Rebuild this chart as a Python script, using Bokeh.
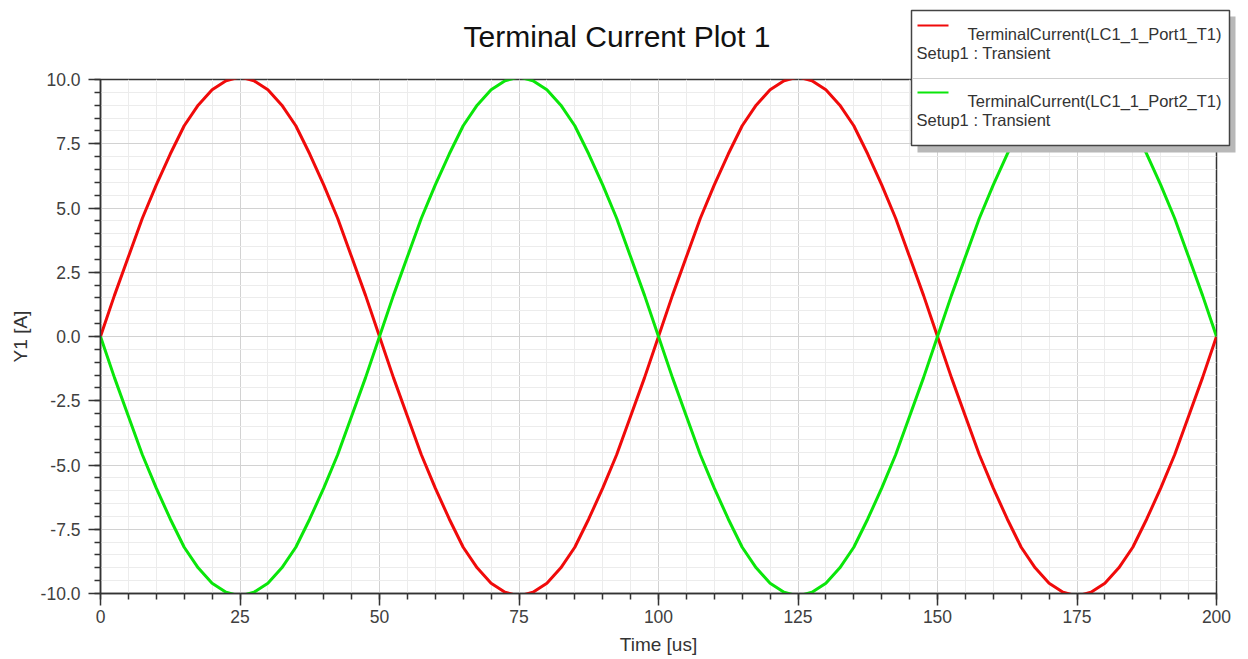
from bokeh.plotting import figure
from bokeh.models import Range1d, FixedTicker, PrintfTickFormatter, Label, BoxAnnotation, GridBox
from bokeh.embed import file_html
from bokeh.resources import INLINE

# ---------------- data ----------------
time_us = [0, 2.5, 5, 7.5, 10, 12.5, 15, 17.5, 20, 22.5, 25, 27.5, 30, 32.5, 35, 37.5, 40, 42.5, 45, 47.5,
           50, 52.5, 55, 57.5, 60, 62.5, 65, 67.5, 70, 72.5, 75, 77.5, 80, 82.5, 85, 87.5, 90, 92.5, 95, 97.5,
           100, 102.5, 105, 107.5, 110, 112.5, 115, 117.5, 120, 122.5, 125, 127.5, 130, 132.5, 135, 137.5, 140, 142.5, 145, 147.5,
           150, 152.5, 155, 157.5, 160, 162.5, 165, 167.5, 170, 172.5, 175, 177.5, 180, 182.5, 185, 187.5, 190, 192.5, 195, 197.5,
           200]

port1_current = [0.0, 1.6, 3.1, 4.6, 5.9, 7.1, 8.2, 9.0, 9.6, 9.95, 10.1, 9.95, 9.6, 9.0, 8.2, 7.1, 5.9, 4.6, 3.1, 1.6,
                 0.0, -1.6, -3.1, -4.6, -5.9, -7.1, -8.2, -9.0, -9.6, -9.95, -10.1, -9.95, -9.6, -9.0, -8.2, -7.1, -5.9, -4.6, -3.1, -1.6,
                 0.0, 1.6, 3.1, 4.6, 5.9, 7.1, 8.2, 9.0, 9.6, 9.95, 10.1, 9.95, 9.6, 9.0, 8.2, 7.1, 5.9, 4.6, 3.1, 1.6,
                 0.0, -1.6, -3.1, -4.6, -5.9, -7.1, -8.2, -9.0, -9.6, -9.95, -10.1, -9.95, -9.6, -9.0, -8.2, -7.1, -5.9, -4.6, -3.1, -1.6,
                 0.0]

port2_current = [0.0, -1.6, -3.1, -4.6, -5.9, -7.1, -8.2, -9.0, -9.6, -9.95, -10.1, -9.95, -9.6, -9.0, -8.2, -7.1, -5.9, -4.6, -3.1, -1.6,
                 0.0, 1.6, 3.1, 4.6, 5.9, 7.1, 8.2, 9.0, 9.6, 9.95, 10.1, 9.95, 9.6, 9.0, 8.2, 7.1, 5.9, 4.6, 3.1, 1.6,
                 0.0, -1.6, -3.1, -4.6, -5.9, -7.1, -8.2, -9.0, -9.6, -9.95, -10.1, -9.95, -9.6, -9.0, -8.2, -7.1, -5.9, -4.6, -3.1, -1.6,
                 0.0, 1.6, 3.1, 4.6, 5.9, 7.1, 8.2, 9.0, 9.6, 9.95, 10.1, 9.95, 9.6, 9.0, 8.2, 7.1, 5.9, 4.6, 3.1, 1.6,
                 0.0]

x_ticks = [0, 25, 50, 75, 100, 125, 150, 175, 200]
x_minor = [0, 5, 10, 15, 20, 25, 30, 35, 40, 45, 50, 55, 60, 65, 70, 75, 80, 85, 90, 95, 100,
           105, 110, 115, 120, 125, 130, 135, 140, 145, 150, 155, 160, 165, 170, 175, 180, 185, 190, 195, 200]
y_ticks = [-10.0, -7.5, -5.0, -2.5, 0.0, 2.5, 5.0, 7.5, 10.0]
y_minor = [-10.0, -9.5, -9.0, -8.5, -8.0, -7.5, -7.0, -6.5, -6.0, -5.5, -5.0, -4.5, -4.0, -3.5, -3.0, -2.5,
           -2.0, -1.5, -1.0, -0.5, 0.0, 0.5, 1.0, 1.5, 2.0, 2.5, 3.0, 3.5, 4.0, 4.5, 5.0, 5.5, 6.0, 6.5,
           7.0, 7.5, 8.0, 8.5, 9.0, 9.5, 10.0]

title_text = "Terminal Current Plot 1"
x_label = "Time [us]"
y_label = "Y1 [A]"
series_names = ["TerminalCurrent(LC1_1_Port1_T1)", "TerminalCurrent(LC1_1_Port2_T1)"]
setup_name = "Setup1 : Transient"

RED = "#f00a0a"
GREEN = "#0ae60a"
FONT = "Liberation Sans"

W, H = 1248, 659

# ---------------- main plot ----------------
p = figure(width=W, height=H, output_backend="svg", toolbar_location=None,
           x_range=Range1d(0, 200), y_range=Range1d(-10, 10),
           min_border_left=100, min_border_right=32, min_border_top=79, min_border_bottom=66)
p.background_fill_color = "white"
p.border_fill_color = "white"
p.outline_line_color = "#333333"
p.outline_line_width = 1.5

p.xaxis.ticker = FixedTicker(ticks=x_ticks, minor_ticks=x_minor)
p.yaxis.ticker = FixedTicker(ticks=y_ticks, minor_ticks=y_minor)
p.xaxis.formatter = PrintfTickFormatter(format="%d")
p.yaxis.formatter = PrintfTickFormatter(format="%.1f")
p.xaxis.axis_label = x_label
p.yaxis.axis_label = y_label

for ax in (p.xaxis, p.yaxis):
    ax.axis_line_color = "#333333"
    ax.axis_line_width = 1.5
    ax.major_tick_line_color = "#333333"
    ax.major_tick_line_width = 1.5
    ax.minor_tick_line_color = "#333333"
    ax.minor_tick_line_width = 1.5
    ax.major_tick_out = 12
    ax.major_tick_in = 0
    ax.minor_tick_out = 6
    ax.minor_tick_in = 0
    ax.major_label_text_font = FONT
    ax.major_label_text_font_size = "17.5px"
    ax.major_label_text_color = "#404040"
    ax.axis_label_text_font = FONT
    ax.axis_label_text_font_size = "19px"
    ax.axis_label_text_font_style = "normal"
    ax.axis_label_text_color = "#333333"
p.xaxis.major_label_standoff = 4
p.yaxis.major_label_standoff = 8
p.xaxis.axis_label_standoff = 8
p.yaxis.axis_label_standoff = 7

for g in (p.xgrid, p.ygrid):
    g.grid_line_color = "#d2d2d2"
    g.grid_line_width = 1
    g.minor_grid_line_color = "#ececec"
    g.minor_grid_line_width = 1

p.line(time_us, port1_current, line_color=RED, line_width=3)
p.line(time_us, port2_current, line_color=GREEN, line_width=3)

# ---------------- transparent overlay for title and legend (pixel coordinates, y down) ----------------
ov = figure(width=W, height=H, output_backend="svg", toolbar_location=None,
            x_range=Range1d(0, W), y_range=Range1d(H, 0),
            x_axis_type=None, y_axis_type=None,
            min_border_left=0, min_border_right=0, min_border_top=0, min_border_bottom=0)
try:
    ov.frame_align = False
    p.frame_align = False
except AttributeError:
    # fall back: overlay frame is aligned to the main frame
    ov.x_range = Range1d(100, 1216)
    ov.y_range = Range1d(593, 79)
ov.outline_line_color = None
ov.background_fill_alpha = 0
ov.border_fill_alpha = 0
ov.grid.visible = False

def lab(x, y, text, size, color="#333333", align="left"):
    ov.add_layout(Label(x=x, y=y, text=text, text_font=FONT, text_font_size=size,
                        text_color=color, text_align=align, text_baseline="alphabetic",
                        level="overlay"))

def box(left, right, top, bottom, fill, line=None, lw=1.5):
    ov.add_layout(BoxAnnotation(left=left, right=right, top=top, bottom=bottom,
                                fill_color=fill, fill_alpha=1.0,
                                line_color=line, line_alpha=1.0 if line else 0.0,
                                line_width=lw, level="overlay"))

lab(616.5, 36, title_text, "30px", color="#111111", align="center")

box(917, 1235, 16, 152, "#b8b8b8")                 # shadow
box(911, 1229, 10, 145, "white", line="#444444")  # legend frame
box(912, 1228, 77.5, 78.5, "#cfcfcf")             # separator
box(917, 948, 24, 26, RED)                        # swatches
box(917, 948, 91, 93, GREEN)

lab(967, 33.3, series_names[0], "16.5px")
lab(916, 52.7, setup_name, "16.5px")
lab(967, 100, series_names[1], "16.5px")
lab(916, 119.3, setup_name, "16.5px")

layout = GridBox(children=[(p, 0, 0), (ov, 0, 0)])
open("out.html", "w").write(file_html(layout, INLINE))
